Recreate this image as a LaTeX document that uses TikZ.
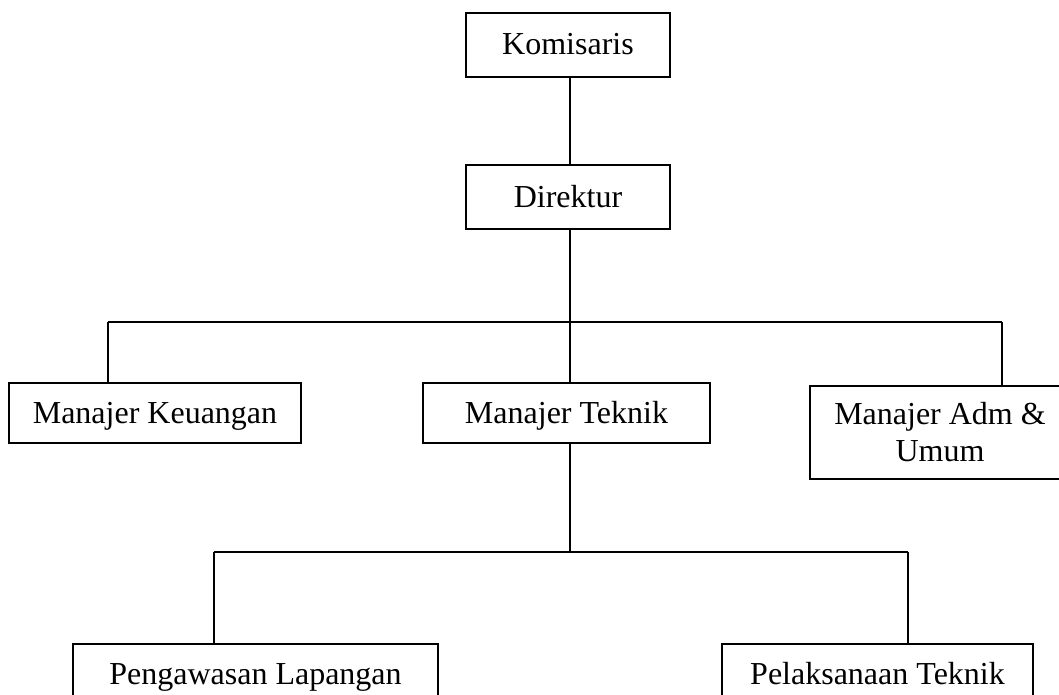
\documentclass[tikz,border=0pt]{standalone}
\usepackage{fontspec}
\setmainfont{Liberation Serif}
\begin{document}
\begin{tikzpicture}[x=0.5pt,y=-0.5pt,
    box/.style={draw,line width=0.9pt,inner sep=0pt,align=center,
        font=\fontsize{16}{18.5}\selectfont,minimum height=30pt,
        text height=14pt,text depth=4pt},
    link/.style={line width=0.9pt}]
\clip (0,0) rectangle (1059,695);

% Draw boxes
\node[box,minimum width=102pt,minimum height=32pt] at (568,45) (kom) {Komisaris};
\node[box,minimum width=102pt,minimum height=32pt] at (568,197) (dir) {Direktur};
\node[box,minimum width=146pt] at (155,413) (keu) {Manajer Keuangan};
\node[box,minimum width=143.5pt] at (566.5,413) (tek) {Manajer Teknik};
\node[box,minimum width=130pt,minimum height=46.5pt,text height=,text depth=] at (940,432.5) (adm) {Manajer Adm \&\\Umum};
\node[box,minimum width=182.5pt] at (255.5,674) (awas) {Pengawasan Lapangan};
\node[box,minimum width=155.5pt] at (877.5,674) (laks) {Pelaksanaan Teknik};

% Junctions
\coordinate (busL) at (108,322);
\coordinate (busR) at (1002,322);
\coordinate (subL) at (214,552);
\coordinate (subR) at (908,552);

% Draw lines
\draw[link] (kom.south -| 570,0) -- (dir.north -| 570,0);
\draw[link] (dir.south -| 570,0) -- (570,322);
\draw[link] (busL) -- (busR);
\draw[link] (busL) -- (busL |- keu.north);
\draw[link] (570,322) -- (tek.north -| 570,0);
\draw[link] (busR) -- (busR |- adm.north);
\draw[link] (tek.south -| 570,0) -- (570,552);
\draw[link] (subL) -- (subR);
\draw[link] (subL) -- (subL |- awas.north);
\draw[link] (subR) -- (subR |- laks.north);

\end{tikzpicture}
\end{document}
